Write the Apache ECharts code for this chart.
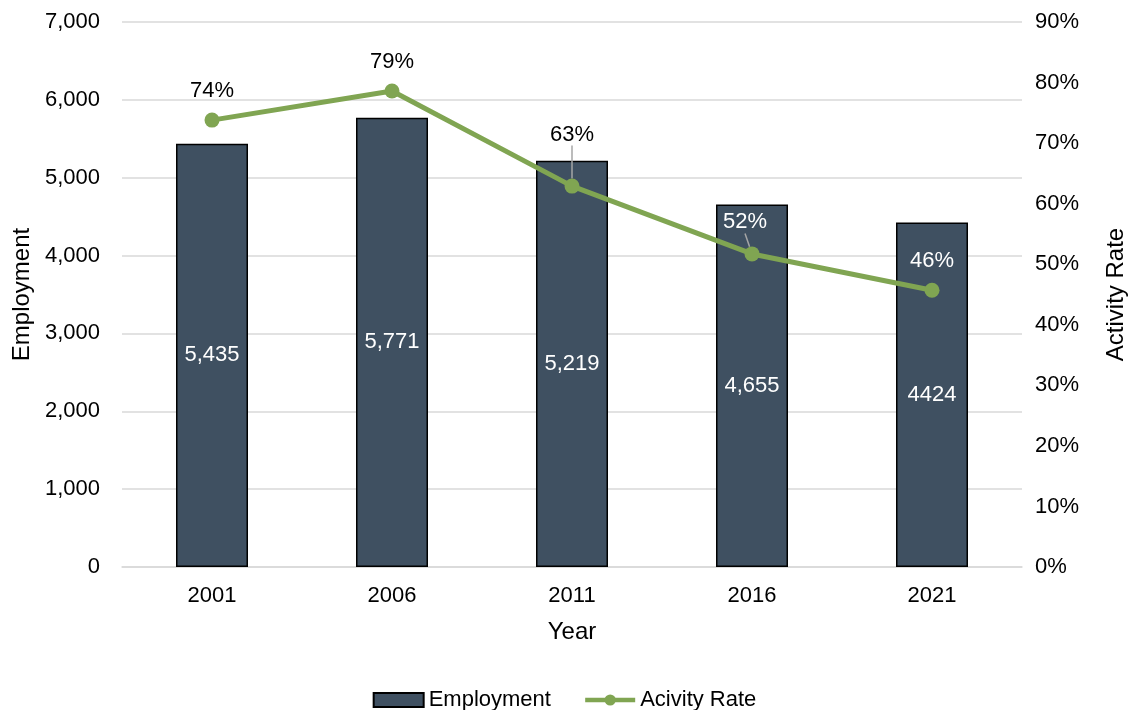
<!DOCTYPE html>
<html><head><meta charset="utf-8">
<script src="https://cdn.jsdelivr.net/npm/echarts@6/dist/echarts.min.js"></script>
<style>html,body{margin:0;padding:0;background:#fff}#c{width:1129px;height:710px}</style>
</head><body><div id="c"></div>
<script>
var years = ['2001','2006','2011','2016','2021'];
var employment = [5435, 5771, 5219, 4655, 4424];
var employmentLabels = ['5,435','5,771','5,219','4,655','4424'];
var activityRate = [73.8, 78.6, 62.9, 51.7, 45.7];
var activityLabels = ['74%','79%','63%','52%','46%'];

var font = 'Liberation Sans, Arial, sans-serif';
var green = '#80A552';
var chart = echarts.init(document.getElementById('c'));

var lineData = activityRate.map(function(v, i){
  var item = {value: v, labelLine: {show: i === 2 || i === 3}};
  if (i >= 3) item.label = {color: '#fff'};
  return item;
});

chart.setOption({
  animation: false,
  textStyle: {fontFamily: font},
  grid: {left: 122, right: 107, top: 22, bottom: 143, containLabel: false, outerBoundsMode: 'none'},
  legend: {
    top: 684, itemWidth: 50, itemHeight: 14, itemGap: 32,
    textStyle: {fontSize: 22, color: '#000', fontFamily: font},
    data: [
      {name: 'Employment', icon: 'rect'},
      {name: 'Acivity Rate', lineStyle: {width: 4.5}}
    ]
  },
  xAxis: {
    type: 'category', data: years,
    name: 'Year', nameLocation: 'middle', nameGap: 53,
    nameTextStyle: {fontSize: 24, color: '#000'},
    axisLine: {lineStyle: {color: '#d9d9d9', width: 1.5}},
    axisTick: {show: false},
    axisLabel: {fontSize: 22, color: '#000', margin: 18}
  },
  yAxis: [{
    type: 'value', min: 0, max: 7000, interval: 1000,
    name: 'Employment', nameLocation: 'middle', nameGap: 88, nameRotate: 90,
    nameTextStyle: {fontSize: 24, color: '#000'},
    axisLine: {show: false}, axisTick: {show: false},
    axisLabel: {fontSize: 22, color: '#000', margin: 22,
      formatter: function(v){return v.toLocaleString('en-US');}},
    splitLine: {lineStyle: {color: '#d9d9d9', width: 1.5}}
  }, {
    type: 'value', min: 0, max: 90, interval: 10,
    name: 'Activity Rate', nameLocation: 'middle', nameGap: 82, nameRotate: 90,
    nameTextStyle: {fontSize: 24, color: '#000'},
    axisLine: {show: false}, axisTick: {show: false},
    axisLabel: {fontSize: 22, color: '#000', margin: 13, formatter: '{value}%'},
    splitLine: {show: false}
  }],
  series: [{
    name: 'Employment', type: 'bar', data: employment, barWidth: '40%',
    itemStyle: {color: '#3F5061', borderColor: '#000', borderWidth: 1.5},
    label: {show: true, position: 'inside', color: '#fff', fontSize: 22,
      formatter: function(p){return employmentLabels[p.dataIndex];}}
  }, {
    name: 'Acivity Rate', type: 'line', yAxisIndex: 1, data: lineData,
    symbol: 'circle', symbolSize: 15, z: 5,
    lineStyle: {color: green, width: 5},
    itemStyle: {color: green},
    label: {show: true, position: 'top', distance: 11, fontSize: 22,
      color: '#000',
      formatter: function(p){return activityLabels[p.dataIndex];}},
    labelLine: {show: false, lineStyle: {color: '#a6a6a6', width: 1.5}},
    labelLayout: function(p){
      if (p.dataIndex === 2) return {dy: -22};
      if (p.dataIndex === 3) return {dx: -7, dy: -2};
      return {};
    }
  }]
});
</script></body></html>
